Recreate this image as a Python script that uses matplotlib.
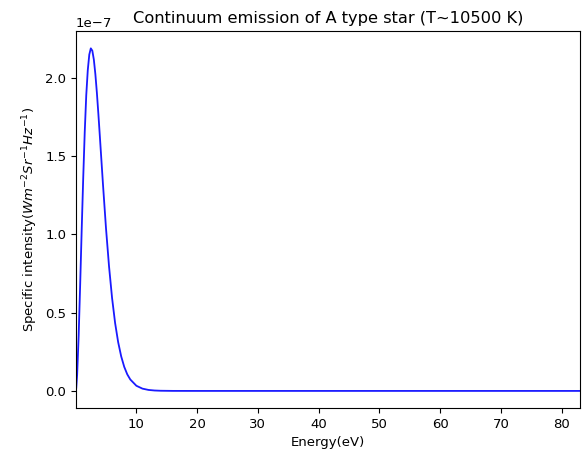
import numpy as np
import matplotlib
matplotlib.use("Agg")
import matplotlib.pyplot as plt

# values (energy in eV, intensity in 1e-7 units)
energy = [0.05, 0.1, 0.25, 0.5, 0.75, 1.0, 1.25, 1.5, 1.75, 2.0, 2.25, 2.5, 2.75, 3.0,
          3.25, 3.5, 3.75, 4.0, 4.5, 5.0, 5.5, 6.0, 6.5, 7.0, 7.5, 8.0, 8.5, 9.0,
          10.0, 11.0, 12.0, 13.0, 14.0, 16.0, 20.0, 30.0, 40.0, 50.0, 60.0, 70.0, 83.0]
intensity = [0.005, 0.018, 0.102, 0.352, 0.680, 1.030, 1.360, 1.654, 1.890, 2.050, 2.150,
             2.190, 2.175, 2.118, 2.025, 1.906, 1.768, 1.621, 1.322, 1.040, 0.796,
             0.594, 0.434, 0.312, 0.221, 0.154, 0.106, 0.073, 0.033, 0.0146, 0.0063,
             0.0027, 0.0011, 0.00018, 0.0, 0.0, 0.0, 0.0, 0.0, 0.0, 0.0]

E = np.array(energy)
B = np.array(intensity) * 1e-7

plt.rcParams['font.size'] = 9.5
fig = plt.figure(figsize=(5.84, 4.59), dpi=100)
ax = fig.add_axes([0.130, 0.111, 0.863, 0.821])
ax.plot(E, B, color='#1a1aff', linewidth=1.3)
ax.set_xlim(E.min(), E.max())
ax.set_xlabel('Energy(eV)')
ax.set_ylabel(r'Specific intensity($Wm^{-2}Sr^{-1}Hz^{-1}$)')
ax.set_title('Continuum emission of A type star (T~10500 K)', fontsize=11.7)
fig.savefig('out.png')
